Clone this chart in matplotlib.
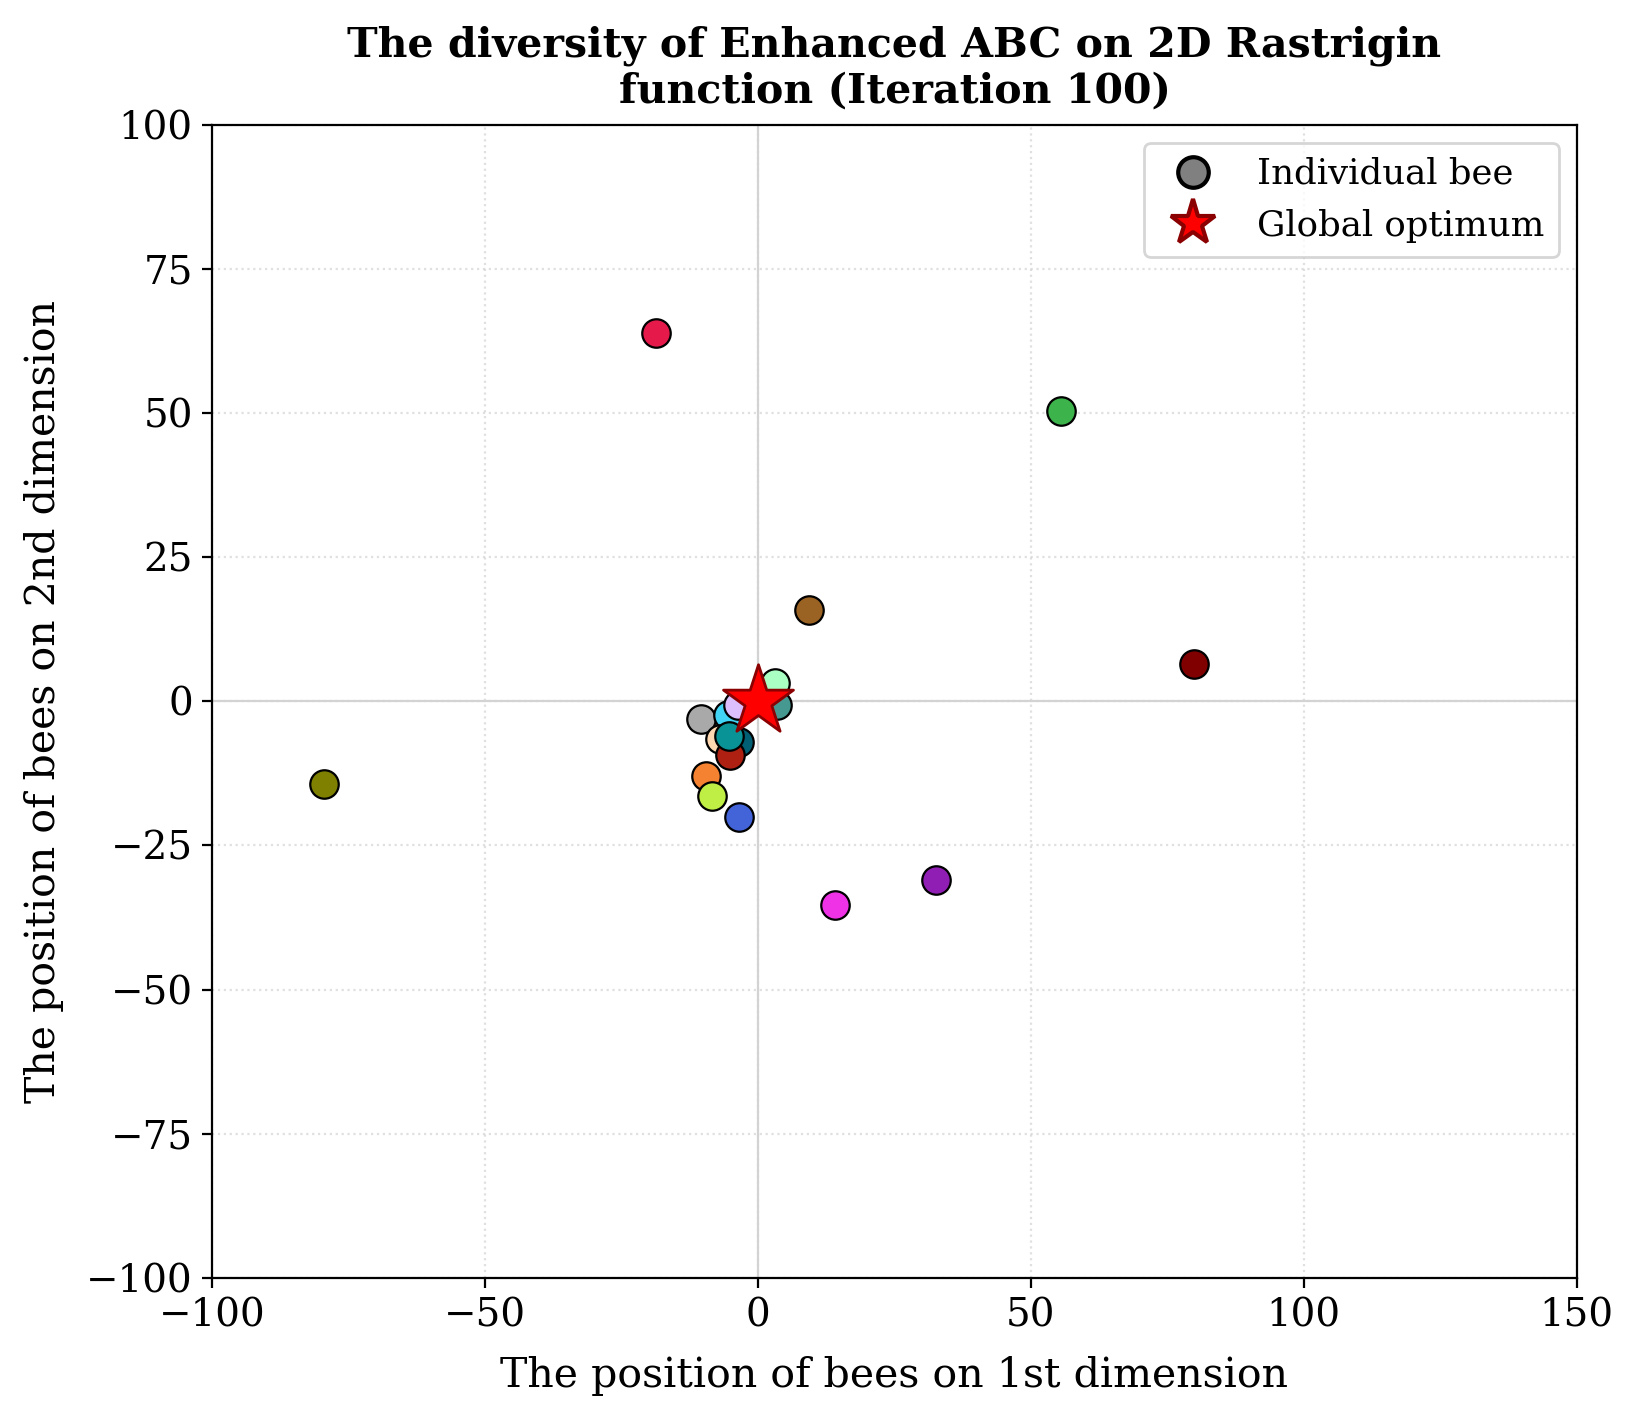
import numpy as np
import matplotlib
matplotlib.use('Agg')
import matplotlib.pyplot as plt
from matplotlib.lines import Line2D

# Positions of the bees at iteration 100
bee_x = [-18.7, 55.6, 9.3, 79.8, -79.6, 32.7, 14.1, -3.5, -9.5, -8.4,
         -10.4, -5.5, -3.7, 3.2, 3.4, -7.0, -3.4, -5.2, -5.4]
bee_y = [63.9, 50.4, 15.9, 6.5, -14.3, -31.0, -35.4, -20.1, -13.0, -16.5,
         -3.1, -2.3, -0.6, 3.2, -0.6, -6.6, -7.0, -9.3, -6.0]
bee_colors = ['#e6194b', '#3cb44b', '#9a6324', '#800000', '#808000',
              '#911eb4', '#f032e6', '#4363d8', '#f58231', '#bfef45',
              '#a9a9a9', '#42d4f4', '#dcbeff', '#aaffc3', '#469990',
              '#ffd8b1', '#005f73', '#ae2012', '#0a9396']
optimum = (0, 0)

plt.rcParams['font.family'] = 'DejaVu Serif'

fig, ax = plt.subplots(figsize=(8.15, 7.045), dpi=200)
fig.subplots_adjust(left=0.1302, right=0.9673, top=0.9113, bottom=0.0932)

ax.axhline(0, color='lightgray', lw=0.8, zorder=0)
ax.axvline(0, color='lightgray', lw=0.8, zorder=0)
ax.grid(True, linestyle=':', color='lightgray', alpha=0.7, zorder=0)

for x, y, c in zip(bee_x, bee_y, bee_colors):
    ax.scatter(x, y, s=105, color=c, edgecolors='black', linewidths=0.8, zorder=3)

ax.scatter(*optimum, marker='*', s=700, color='red', edgecolors='darkred',
           linewidths=1, zorder=4)

# legend handles
handles = [
    Line2D([], [], marker='o', ls='', markersize=11, markerfacecolor='gray',
           markeredgecolor='black', markeredgewidth=1.5, label='Individual bee'),
    Line2D([], [], marker='*', ls='', markersize=17, markerfacecolor='red',
           markeredgecolor='darkred', markeredgewidth=1.5, label='Global optimum'),
]
ax.legend(handles=handles, loc='upper right', fontsize=12.8)

ax.set_xlim(-100, 150)
ax.set_ylim(-100, 100)
ax.tick_params(labelsize=14)
ax.set_xlabel('The position of bees on 1st dimension', fontsize=14.8, labelpad=8)
ax.set_ylabel('The position of bees on 2nd dimension', fontsize=14.8, labelpad=8)
ax.set_title('The diversity of Enhanced ABC on 2D Rastrigin\nfunction (Iteration 100)',
             fontsize=14.8, fontweight='bold', pad=8)

plt.savefig('out.png')
